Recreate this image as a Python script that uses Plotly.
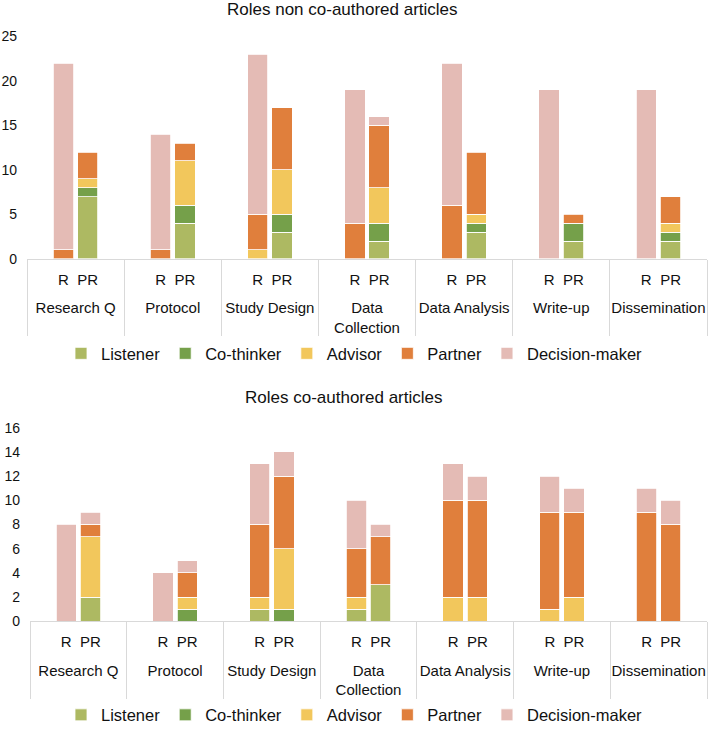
import plotly.graph_objects as go
from plotly.subplots import make_subplots

# ---------------- data ----------------
stages = ["Research Q", "Protocol", "Study Design", "Data Collection",
          "Data Analysis", "Write-up", "Dissemination"]
roles = ["Listener", "Co-thinker", "Advisor", "Partner", "Decision-maker"]
bar_labels = ["R", "PR"]

# Roles non co-authored articles
non_R_listener = [0, 0, 0, 0, 0, 0, 0]
non_R_cothinker = [0, 0, 0, 0, 0, 0, 0]
non_R_advisor = [0, 0, 1, 0, 0, 0, 0]
non_R_partner = [1, 1, 4, 4, 6, 0, 0]
non_R_decision = [21, 13, 18, 15, 16, 19, 19]

non_PR_listener = [7, 4, 3, 2, 3, 2, 2]
non_PR_cothinker = [1, 2, 2, 2, 1, 2, 1]
non_PR_advisor = [1, 5, 5, 4, 1, 0, 1]
non_PR_partner = [3, 2, 7, 7, 7, 1, 3]
non_PR_decision = [0, 0, 0, 1, 0, 0, 0]

# Roles co-authored articles
co_R_listener = [0, 0, 1, 1, 0, 0, 0]
co_R_cothinker = [0, 0, 0, 0, 0, 0, 0]
co_R_advisor = [0, 0, 1, 1, 2, 1, 0]
co_R_partner = [0, 0, 6, 4, 8, 8, 9]
co_R_decision = [8, 4, 5, 4, 3, 3, 2]

co_PR_listener = [2, 0, 0, 3, 0, 0, 0]
co_PR_cothinker = [0, 1, 1, 0, 0, 0, 0]
co_PR_advisor = [5, 1, 5, 0, 2, 2, 0]
co_PR_partner = [1, 2, 6, 4, 8, 7, 8]
co_PR_decision = [1, 1, 2, 1, 2, 2, 2]

top_title = "Roles non co-authored articles"
bottom_title = "Roles co-authored articles"
top_ticks = [0, 5, 10, 15, 20, 25]
bottom_ticks = [0, 2, 4, 6, 8, 10, 12, 14, 16]

colors = ["#adb962", "#75a04a", "#f2c75c", "#e07f3c", "#e4bbb5"]

non_R = [non_R_listener, non_R_cothinker, non_R_advisor, non_R_partner, non_R_decision]
non_PR = [non_PR_listener, non_PR_cothinker, non_PR_advisor, non_PR_partner, non_PR_decision]
co_R = [co_R_listener, co_R_cothinker, co_R_advisor, co_R_partner, co_R_decision]
co_PR = [co_PR_listener, co_PR_cothinker, co_PR_advisor, co_PR_partner, co_PR_decision]

# ---------------- build ----------------
W, H = 709, 733
FONT = "Liberation Sans, Arial, sans-serif"
TXT = "#111111"
GRID = "#d9d9d9"

# blank padding slots on each side of the R / PR pair; the tiny second line
# adds vertical room between the inner (R/PR) and outer (stage) label rows
SPACER = "<br><span style='font-size:1px'>\u00a0</span>"
pad_a, pad_b = "\u00a0", "\u00a0\u00a0"

outer, inner = [], []
for s in stages:
    lab = s.replace("Data Collection", "Data<br>Collection")
    for i in [pad_a, bar_labels[0] + SPACER, bar_labels[1] + SPACER, pad_b]:
        outer.append(lab)
        inner.append(i)


def series(rvals, prvals):
    out = []
    for r, p in zip(rvals, prvals):
        out += [None, r if r else None, p if p else None, None]
    return out


fig = make_subplots(rows=2, cols=1)

for k, role in enumerate(roles):
    fig.add_trace(go.Bar(
        x=[outer, inner], y=series(non_R[k], non_PR[k]), name=role,
        marker=dict(color=colors[k], line=dict(color="white", width=0.8)),
        legend="legend", showlegend=True, hoverinfo="skip"), row=1, col=1)
for k, role in enumerate(roles):
    fig.add_trace(go.Bar(
        x=[outer, inner], y=series(co_R[k], co_PR[k]), name=role,
        marker=dict(color=colors[k], line=dict(color="white", width=0.8)),
        legend="legend2", showlegend=True, hoverinfo="skip"), row=2, col=1)


def py(p):
    return 1 - p / H


xcommon = dict(showline=True, linecolor=GRID, linewidth=1, ticks="",
               showgrid=False, zeroline=False, showdividers=True,
               dividercolor=GRID, dividerwidth=1, tickangle=0, automargin=False,
               tickfont=dict(family=FONT, size=15, color=TXT),
               ticklabelstandoff=7)
ycommon = dict(showline=False, showgrid=False, zeroline=False, ticks="",
               automargin=False,
               tickfont=dict(family=FONT, size=14, color=TXT),
               ticklabelstandoff=9)

legend_common = dict(orientation="h", x=0.5, xanchor="center", yanchor="middle",
                     traceorder="normal", itemwidth=30,
                     font=dict(family=FONT, size=16.5, color=TXT),
                     bgcolor="rgba(0,0,0,0)")

fig.update_layout(
    width=W, height=H,
    margin=dict(l=0, r=0, t=0, b=0),
    paper_bgcolor="white", plot_bgcolor="white",
    barmode="stack", bargap=0.16,
    font=dict(family=FONT, color=TXT),
    xaxis=dict(domain=[27 / W, 707 / W], **xcommon),
    xaxis2=dict(domain=[30 / W, 707 / W], **xcommon),
    yaxis=dict(domain=[py(262), py(37)], range=[0, 25], tickvals=top_ticks, **ycommon),
    yaxis2=dict(domain=[py(629), py(433)], range=[0, 16], tickvals=bottom_ticks, **ycommon),
    legend=dict(y=py(358), **legend_common),
    legend2=dict(y=py(724), **legend_common),
    annotations=[
        dict(text=top_title, x=342 / W, y=py(10), xref="paper", yref="paper",
             xanchor="center", yanchor="middle", showarrow=False,
             font=dict(family=FONT, size=17, color=TXT)),
        dict(text=bottom_title, x=343 / W, y=py(402), xref="paper", yref="paper",
             xanchor="center", yanchor="middle", showarrow=False,
             font=dict(family=FONT, size=17, color=TXT)),
    ],
)

fig.write_html(
    "out.html",
    config={"displayModeBar": False},
    post_script=("document.body.style.margin='0px';"
                 "document.documentElement.style.overflow='hidden';"
                 "document.body.style.overflow='hidden';"),
)
